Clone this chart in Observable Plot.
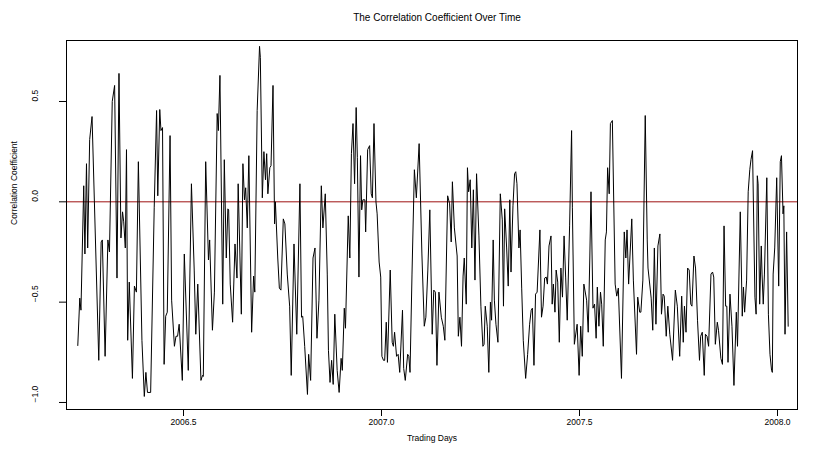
<!DOCTYPE html>
<html>
<head>
<meta charset="utf-8">
<script src="https://cdn.jsdelivr.net/npm/d3@7"></script>
<script src="https://cdn.jsdelivr.net/npm/@observablehq/plot@0.6"></script>
<style>
  html, body { margin: 0; padding: 0; background: #fff; }
</style>
</head>
<body>
<div id="chart"></div>
<script>
// Rolling correlation coefficient, one reading per trading day (decimal years)
const tradingYears = [
  2006.233, 2006.238, 2006.241, 2006.248, 2006.251, 2006.255, 2006.258, 2006.263, 2006.269, 2006.286,
  2006.292, 2006.295, 2006.302, 2006.309, 2006.313, 2006.320, 2006.326, 2006.332, 2006.337, 2006.342,
  2006.346, 2006.349, 2006.353, 2006.356, 2006.359, 2006.363, 2006.371, 2006.376, 2006.381, 2006.386,
  2006.395, 2006.401,
  2006.405, 2006.409, 2006.417, 2006.426, 2006.432, 2006.435, 2006.440, 2006.443, 2006.447, 2006.451,
  2006.455, 2006.459, 2006.466, 2006.470, 2006.477, 2006.481, 2006.485, 2006.489, 2006.497, 2006.502,
  2006.512, 2006.520, 2006.527, 2006.531, 2006.536, 2006.544, 2006.548, 2006.550, 2006.556, 2006.563,
  2006.566, 2006.573,
  2006.578, 2006.585, 2006.588, 2006.592, 2006.599, 2006.603, 2006.608, 2006.612, 2006.614, 2006.618,
  2006.624, 2006.630, 2006.635, 2006.638, 2006.646, 2006.650, 2006.654, 2006.657, 2006.661, 2006.665,
  2006.672, 2006.677, 2006.680, 2006.686, 2006.692, 2006.694, 2006.699, 2006.703, 2006.707, 2006.710,
  2006.713, 2006.718, 2006.721, 2006.726, 2006.730, 2006.732, 2006.738, 2006.742, 2006.746, 2006.752,
  2006.756, 2006.762,
  2006.768, 2006.772, 2006.779, 2006.786, 2006.794, 2006.798, 2006.801, 2006.806, 2006.813, 2006.816,
  2006.821, 2006.827, 2006.832, 2006.837, 2006.842, 2006.848, 2006.852, 2006.858, 2006.863, 2006.866,
  2006.870, 2006.874, 2006.878, 2006.882, 2006.888, 2006.893, 2006.898, 2006.901, 2006.906, 2006.909,
  2006.916, 2006.920, 2006.924, 2006.928, 2006.932, 2006.936, 2006.939, 2006.943, 2006.947,
  2006.950, 2006.953, 2006.958, 2006.960, 2006.965, 2006.970, 2006.974, 2006.977, 2006.981, 2006.986,
  2006.989, 2006.994, 2006.998, 2007.001, 2007.005, 2007.008, 2007.012, 2007.015, 2007.022, 2007.027,
  2007.030, 2007.033, 2007.038, 2007.042, 2007.046, 2007.053, 2007.056, 2007.060, 2007.066, 2007.069,
  2007.072, 2007.077, 2007.083, 2007.088, 2007.095, 2007.102, 2007.108, 2007.112, 2007.117, 2007.122,
  2007.128, 2007.132, 2007.136, 2007.140, 2007.145, 2007.151, 2007.156, 2007.160, 2007.167, 2007.172,
  2007.176, 2007.179, 2007.184, 2007.191, 2007.194, 2007.198, 2007.202, 2007.206, 2007.209, 2007.214,
  2007.217, 2007.220, 2007.224, 2007.228, 2007.232, 2007.236, 2007.240, 2007.246, 2007.251, 2007.256,
  2007.259, 2007.262, 2007.267, 2007.271, 2007.275, 2007.278, 2007.282, 2007.285, 2007.289, 2007.294,
  2007.300, 2007.305, 2007.308, 2007.311,
  2007.316, 2007.320, 2007.324, 2007.327, 2007.332, 2007.336, 2007.339, 2007.342, 2007.347, 2007.350,
  2007.354, 2007.358, 2007.364, 2007.369, 2007.374, 2007.378, 2007.381, 2007.385, 2007.389, 2007.393,
  2007.400, 2007.404, 2007.408, 2007.412, 2007.416, 2007.419, 2007.423, 2007.428, 2007.431, 2007.434,
  2007.438, 2007.441, 2007.445, 2007.449, 2007.453, 2007.457, 2007.461, 2007.465, 2007.469, 2007.475,
  2007.480, 2007.482, 2007.487,
  2007.494, 2007.499, 2007.503, 2007.507, 2007.511, 2007.518, 2007.522, 2007.526, 2007.529, 2007.534,
  2007.538, 2007.542, 2007.545, 2007.549, 2007.553, 2007.556, 2007.560, 2007.565, 2007.568, 2007.571,
  2007.575, 2007.578, 2007.583, 2007.590, 2007.594, 2007.598, 2007.606, 2007.613, 2007.617, 2007.620,
  2007.624, 2007.632, 2007.636, 2007.644, 2007.647, 2007.652, 2007.655, 2007.660, 2007.666, 2007.671,
  2007.673, 2007.681, 2007.685, 2007.689, 2007.693, 2007.698, 2007.703, 2007.707, 2007.711, 2007.714,
  2007.719, 2007.723, 2007.728, 2007.735, 2007.742, 2007.747, 2007.753, 2007.758, 2007.762, 2007.765,
  2007.769, 2007.773, 2007.777, 2007.781, 2007.784, 2007.789, 2007.793, 2007.798, 2007.803, 2007.806,
  2007.810, 2007.815, 2007.818, 2007.822, 2007.826, 2007.832, 2007.836, 2007.839, 2007.843, 2007.848,
  2007.851, 2007.857,
  2007.861, 2007.865, 2007.869, 2007.872, 2007.875, 2007.880, 2007.885, 2007.890, 2007.896, 2007.899,
  2007.906, 2007.911, 2007.914, 2007.917, 2007.922, 2007.926, 2007.930, 2007.933, 2007.937, 2007.943,
  2007.946, 2007.949, 2007.951, 2007.955, 2007.959, 2007.961, 2007.964, 2007.967, 2007.973, 2007.977,
  2007.981, 2007.985, 2007.987, 2007.989, 2007.993, 2007.998, 2008.003, 2008.007, 2008.010, 2008.014,
  2008.016, 2008.019, 2008.023, 2008.027
];

const correlation = [
  -0.716, -0.48, -0.54, 0.08, -0.26, 0.19, -0.23, 0.31, 0.425, -0.79,
  -0.2, -0.19, -0.77, -0.19, -0.25, 0.5, 0.58, -0.38, 0.64, -0.18,
  -0.05, -0.1, -0.23, 0.26, -0.69, -0.4, -0.88, -0.42, -0.45, 0.2,
  -0.69, -0.97,
  -0.85, -0.95, -0.95, -0.03, 0.455, 0.03, 0.46, 0.355, 0.37, -0.81,
  -0.57, -0.55, 0.33, -0.49, -0.72, -0.67, -0.67, -0.61, -0.89, -0.26,
  -0.84, 0.09, -0.34, -0.66, -0.41, -0.89, -0.865, -0.87, 0.2, -0.29,
  -0.19, -0.64,
  -0.45, 0.44, 0.355, 0.63, -0.51, 0.21, -0.28, -0.035, -0.04, -0.41,
  -0.6, -0.21, -0.38, 0.09, -0.56, 0.19, 0.01, 0.07, -0.13, 0.23,
  -0.65, -0.37, -0.45, 0.455, 0.775, 0.72, 0.02, 0.25, 0.11, 0.24,
  0.04, 0.17, 0.18, 0.58, -0.11, 0.0, -0.28, -0.43, -0.44, -0.085,
  -0.11, -0.36,
  -0.52, -0.865, -0.21, -0.66, 0.09, -0.575, -0.57, -0.72, -0.96, -0.76,
  -0.89, -0.28, -0.23, -0.68, -0.49, 0.08, -0.13, 0.04, -0.36, -0.74,
  -0.9, -0.79, -0.91, -0.56, -0.84, -0.95, -0.78, -0.84, -0.53, -0.63,
  -0.07, -0.28, 0.24, 0.39, 0.09, 0.47, 0.22, -0.375, 0.23,
  -0.04, 0.01, 0.01, -0.15, 0.26, 0.28, 0.04, 0.02, 0.39, 0.0,
  -0.06, -0.3, -0.375, -0.77, -0.79, -0.79, -0.6, -0.8, -0.34, -0.7,
  -0.72, -0.65, -0.77, -0.76, -0.85, -0.54, -0.83, -0.89, -0.76, -0.77,
  -0.85, -0.36, 0.16, 0.02, 0.29, -0.26, -0.62, -0.575, -0.34, -0.04,
  -0.66, -0.44, -0.45, -0.815, -0.45, -0.575, -0.62, -0.69, 0.03, -0.01,
  -0.2, 0.1, -0.13, -0.27, -0.67, -0.575, -0.72, -0.37, -0.28, -0.51,
  0.17, 0.05, 0.11, -0.23, 0.06, -0.39, 0.14, -0.17, -0.52, -0.72,
  -0.71, -0.52, -0.62, -0.85, -0.5, -0.59, -0.19, -0.49, -0.61, -0.7,
  0.04, -0.09, -0.52, -0.035,
  -0.23, -0.42, 0.01, -0.35, -0.02, 0.14, 0.15, 0.09, -0.23, -0.14,
  -0.43, -0.69, -0.88, -0.76, -0.61, -0.54, -0.53, -0.815, -0.46, -0.45,
  -0.14, -0.575, -0.52, -0.38, -0.375, -0.41, -0.22, -0.17, -0.51, -0.41,
  -0.55, -0.34, -0.4, -0.7, -0.33, -0.475, -0.17, -0.375, -0.59, -0.12,
  0.355, -0.03, -0.71,
  -0.61, -0.865, -0.62, -0.77, -0.41, -0.49, -0.65, -0.28, 0.05, -0.53,
  -0.51, -0.68, -0.425, -0.62, -0.45, -0.51, -0.72, -0.19, -0.15, 0.17,
  0.04, 0.39, 0.405, -0.41, -0.47, -0.43, -0.88, -0.15, -0.28, -0.14,
  -0.41, -0.085, -0.39, -0.76, -0.475, -0.55, -0.55, -0.39, 0.43, -0.19,
  -0.33, -0.48, -0.64, -0.23, -0.61, -0.22, -0.16, -0.56, -0.46, -0.47,
  -0.67, -0.52, -0.66, -0.79, -0.44, -0.52, -0.77, -0.47, -0.7, -0.52,
  -0.65, -0.33, -0.34, -0.51, -0.52, -0.27, -0.33, -0.59, -0.79, -0.67,
  -0.65, -0.865, -0.66, -0.67, -0.72, -0.36, -0.35, -0.375, -0.71, -0.6,
  -0.64, -0.78,
  -0.81, -0.12, -0.52, -0.52, -0.8, -0.46, -0.62, -0.915, -0.55, -0.72,
  -0.05, -0.57, -0.425, -0.55, -0.39, 0.05, 0.16, 0.21, 0.255, -0.475,
  -0.56, 0.13, 0.09, -0.51, -0.22, -0.36, -0.51, -0.36, 0.12, -0.56,
  -0.76, -0.84, -0.85, -0.36, -0.23, 0.12, -0.42, 0.2, 0.23, -0.06,
  -0.02, -0.66, -0.15, -0.62
];

const xTicks = [2006.5, 2007.0, 2007.5, 2008.0];
const yTicks = [-1.0, -0.5, 0.0, 0.5];

const series = tradingYears.map((t, i) => ({t, r: correlation[i]}));

// R-style number labels with a true minus sign
const fmt = (d) => d3.format(".1f")(d).replace("-", "\u2212");

const chart = Plot.plot({
  width: 818,
  height: 453,
  marginLeft: 66,
  marginRight: 21,
  marginTop: 40,
  marginBottom: 44,
  style: {
    fontFamily: "'Liberation Sans', Arial, Helvetica, sans-serif",
    fontSize: "8.5px",
    background: "#ffffff",
    color: "#000000"
  },
  x: {domain: [2006.2045, 2008.0505]},
  y: {domain: [-1.035, 0.804]},
  marks: [
    // reference line at zero
    Plot.ruleY([0], {stroke: "#9e1010", strokeWidth: 1}),
    Plot.line(series, {x: "t", y: "r", stroke: "#000000", strokeWidth: 1}),
    Plot.frame({stroke: "#000000", strokeWidth: 1}),
    Plot.axisX(xTicks, {tickSize: 7, tickPadding: 2, tickFormat: fmt, label: null}),
    Plot.axisY(yTicks, {tickSize: 7, tickFormat: () => "", label: null}),
    Plot.text(yTicks, {y: (d) => d, frameAnchor: "left", dx: -31, rotate: -90, text: fmt}),
    Plot.text(["The Correlation Coefficient Over Time"], {frameAnchor: "top", dy: -27, dx: 5, text: (d) => d, fontSize: 10}),
    Plot.text(["Trading Days"], {frameAnchor: "bottom", dy: 31, text: (d) => d}),
    Plot.text(["Correlation Coefficient"], {frameAnchor: "left", dx: -52, rotate: -90, text: (d) => d})
  ]
});

document.getElementById("chart").appendChild(chart);
</script>
</body>
</html>
